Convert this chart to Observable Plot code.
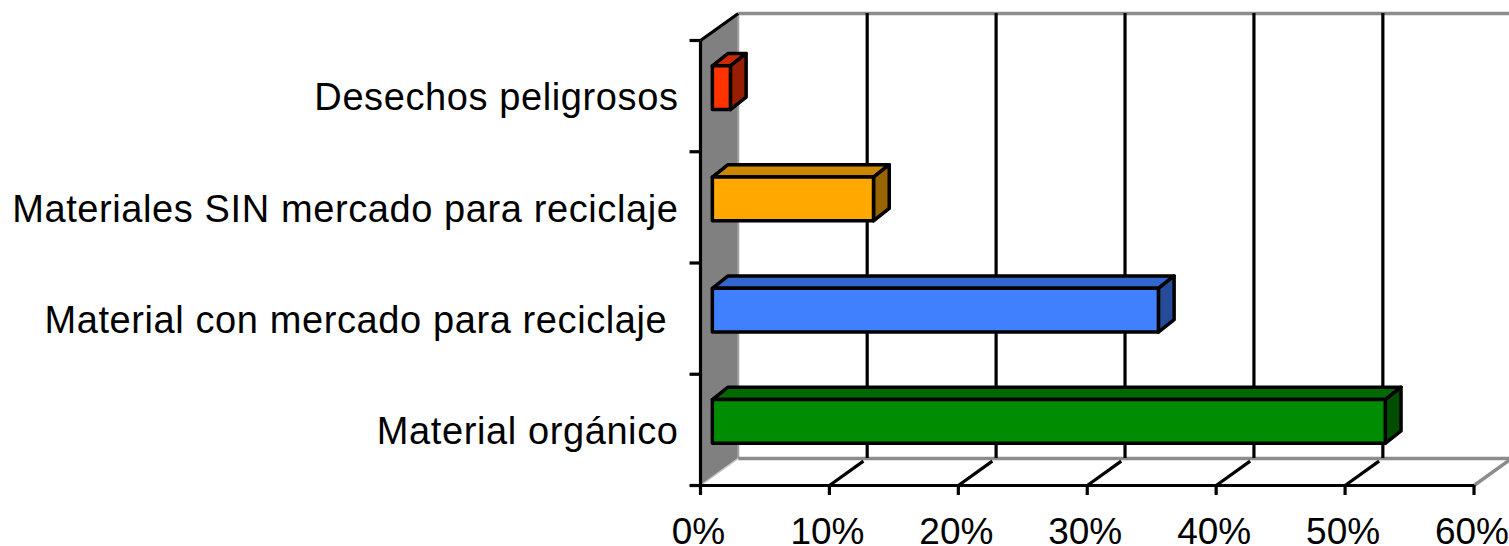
<!DOCTYPE html>
<html>
<head>
<meta charset="utf-8">
<style>html,body{margin:0;padding:0;background:#fff;overflow:hidden}
.cat text{letter-spacing:0.6px}</style>
<script src="https://cdn.jsdelivr.net/npm/d3@7"></script>
<script src="https://cdn.jsdelivr.net/npm/@observablehq/plot@0.6"></script>
</head>
<body>
<div id="chart"></div>
<script>
// Data, bottom to top
const categories = ["Material orgánico", "Material con mercado para reciclaje\u00a0", "Materiales SIN mercado para reciclaje", "Desechos peligrosos"];
const values = [52.2, 34.6, 12.5, 1.4];
const frontColors = ["#008c00", "#4080ff", "#ffa900", "#ff3300"];
const topColors = ["#006900", "#3366cc", "#cc8700", "#cc2900"];
const sideColors = ["#004f00", "#264c99", "#976400", "#971e00"];
const xTicks = [0, 10, 20, 30, 40, 50, 60];
const yTicks = [0, 1, 2, 3, 4];
const gridTicks = [10, 20, 30, 40, 50];

// 3D projection, in data units
const wallDx = 2.93, wallDy = 0.243;
const barOffsetX = 0.92, barOffsetY = 0.076;
const barDepthX = 1.22, barDepthY = 0.111;
const barHalf = 0.197;

const black = "#000", gray = "#8c8c8c";

function poly(points, fill, stroke = black, strokeWidth = 3.5) {
  return Plot.line([...points, points[0]], {
    x: d => d[0], y: d => d[1], fill, stroke, strokeWidth,
    strokeLinejoin: "round", strokeLinecap: "round"
  });
}
function seg(a, b, stroke = black, strokeWidth = 3.2) {
  return Plot.line([a, b], {x: d => d[0], y: d => d[1], stroke, strokeWidth, strokeLinecap: "butt"});
}

const barFaces = values.flatMap((v, i) => {
  const x0 = barOffsetX, x1 = barOffsetX + v;
  const yc = i + 0.5 + barOffsetY;
  const y0 = yc - barHalf, y1 = yc + barHalf;
  const dx = barDepthX, dy = barDepthY;
  return [
    poly([[x0, y1], [x1, y1], [x1 + dx, y1 + dy], [x0 + dx, y1 + dy]], topColors[i]),
    poly([[x1, y0], [x1 + dx, y0 + dy], [x1 + dx, y1 + dy], [x1, y1]], sideColors[i]),
    poly([[x0, y0], [x1, y0], [x1, y1], [x0, y1]], frontColors[i])
  ];
});

const chart = Plot.plot({
  width: 1509,
  height: 546,
  marginLeft: 700,
  marginRight: 35.5,
  marginTop: 40,
  marginBottom: 61,
  x: {domain: [0, 60]},
  y: {domain: [0, 4]},
  style: {background: "#fff", fontFamily: "'Liberation Sans', Arial, sans-serif", color: "#000", overflow: "hidden"},
  marks: [
    // side wall
    poly([[0, 0], [wallDx, wallDy], [wallDx, 4 + wallDy], [0, 4]], "#808080", "none", 0),
    seg([wallDx, wallDy], [wallDx, 4 + wallDy], "#a0a0a0", 2),
    seg([0, 0], [wallDx, wallDy], "#c8c8c8", 1.5),
    // back wall frame
    seg([wallDx, 4 + wallDy], [60 + wallDx, 4 + wallDy], gray, 3.5),
    seg([wallDx, wallDy], [60 + wallDx, wallDy], gray, 3.5),
    seg([60, 0], [60 + wallDx, wallDy], gray, 3.5),
    // grid
    Plot.ruleX(gridTicks, {x: d => d + wallDx, y1: wallDy, y2: 4 + wallDy, stroke: black, strokeWidth: 3.2}),
    ...gridTicks.map(t => seg([t, 0], [t + wallDx * 0.9, wallDy * 0.9], black, 3.2)),
    // axes
    seg([0, 0], [0, 4]),
    seg([0, 4], [wallDx, 4 + wallDy]),
    seg([0, 0], [60, 0]),
    Plot.axisY({ticks: yTicks, tickFormat: () => "", tickSize: 10.5, strokeWidth: 3.2, label: null}),
    Plot.axisX({ticks: xTicks, tickFormat: () => "", tickSize: 10, strokeWidth: 3.2, label: null}),
    Plot.text(xTicks, {
      x: d => d, y: 0, text: d => d + "%",
      dx: -2, dy: 47, fontSize: 37, fill: black
    }),
    // bars
    ...barFaces,
    // category labels
    Plot.text(categories, {
      x: 0, y: (d, i) => i + 0.5, text: d => d,
      textAnchor: "end", dx: -22, dy: 2, fontSize: 38, fill: black, className: "cat"
    })
  ]
});
document.getElementById("chart").appendChild(chart);
</script>
</body>
</html>
